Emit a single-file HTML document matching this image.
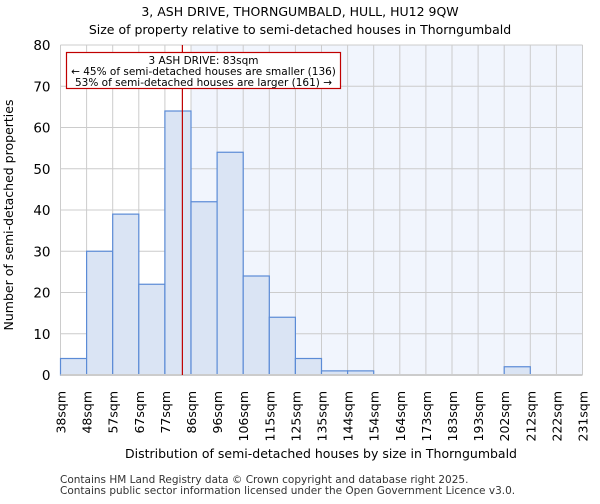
<!DOCTYPE html>
<html><head><meta charset="utf-8"><style>
body{margin:0;background:#fff;font-family:"DejaVu Sans","Liberation Sans",sans-serif}
</style></head><body>
<svg width="600" height="500" xmlns="http://www.w3.org/2000/svg" font-family="DejaVu Sans, Liberation Sans, sans-serif">
<text x="300" y="16" text-anchor="middle" font-size="12.5">3, ASH DRIVE, THORNGUMBALD, HULL, HU12 9QW</text>
<text x="300" y="34" text-anchor="middle" font-size="12.5">Size of property relative to semi-detached houses in Thorngumbald</text>
<g id="plot"></g>
<text x="321" y="458" text-anchor="middle" font-size="12.5">Distribution of semi-detached houses by size in Thorngumbald</text>
<text transform="translate(13,215) rotate(-90)" text-anchor="middle" font-size="12.5">Number of semi-detached properties</text>
<text x="60" y="483" font-size="10.5" fill="#333">Contains HM Land Registry data © Crown copyright and database right 2025.</text>
<text x="60" y="494" font-size="10.5" fill="#333">Contains public sector information licensed under the Open Government Licence v3.0.</text>
</svg>
<script>
const binLabels=["38sqm","48sqm","57sqm","67sqm","77sqm","86sqm","96sqm","106sqm","115sqm","125sqm","135sqm","144sqm","154sqm","164sqm","173sqm","183sqm","193sqm","202sqm","212sqm","222sqm","231sqm"];
const counts=[4,30,39,22,64,42,54,24,14,4,1,1,0,0,0,0,0,2,0,0];
const yTicks=[0,10,20,30,40,50,60,70,80];
const propertyBinPos=4.67;
const highlightFrom=5;
const NS="http://www.w3.org/2000/svg";
const g=document.getElementById('plot');
const x0=60.5,x1=582.5,y0=375,y1=45,yMax=80;
const bw=(x1-x0)/counts.length;
const X=i=>x0+i*bw, Y=v=>y0-(v/yMax)*(y0-y1);
function mk(t,a,p){const e=document.createElementNS(NS,t);for(const k in a)e.setAttribute(k,a[k]);(p||g).appendChild(e);return e;}
let e=mk('rect',{x:X(highlightFrom),y:y1,width:x1-X(highlightFrom),height:y0-y1,fill:'#f1f5fd'});

yTicks.forEach(v=>{let l=mk('line',{x1:x0,x2:x1,y1:Y(v),y2:Y(v),stroke:'#cccccc'});
let t=mk('text',{x:x0-10,y:Y(v)+5,'text-anchor':'end','font-size':'13.5'});t.textContent=v;});
binLabels.forEach((s,i)=>{let l=mk('line',{x1:X(i),x2:X(i),y1:y1,y2:y0,stroke:'#cccccc'});
let t=mk('text',{transform:`translate(${X(i)+5},${y0+16}) rotate(-90)`,'text-anchor':'end','font-size':'12.5'});t.textContent=s;});
counts.forEach((c,i)=>{if(c<=0)return;let r=mk('rect',{x:X(i),y:Y(c),width:bw,height:y0-Y(c),fill:'#dae4f4',stroke:'#5b8bd6','stroke-width':1.2});});
e=mk('line',{x1:x0,x2:x1,y1:y0,y2:y0,stroke:'#cccccc','stroke-width':2});
const px=X(propertyBinPos);
e=mk('line',{x1:px,x2:px,y1:y1,y2:y0,stroke:'#c00000','stroke-width':1.2});
e=mk('rect',{x:66.5,y:52.5,width:274,height:36,fill:'#fff',stroke:'#c00000','stroke-width':1.2});
[["3 ASH DRIVE: 83sqm",64],["← 45% of semi-detached houses are smaller (136)",75],["53% of semi-detached houses are larger (161) →",86]].forEach(([s,y])=>{let t=mk('text',{x:203.5,y:y,'text-anchor':'middle','font-size':'10.5'});t.textContent=s;});
</script>
</body></html>
